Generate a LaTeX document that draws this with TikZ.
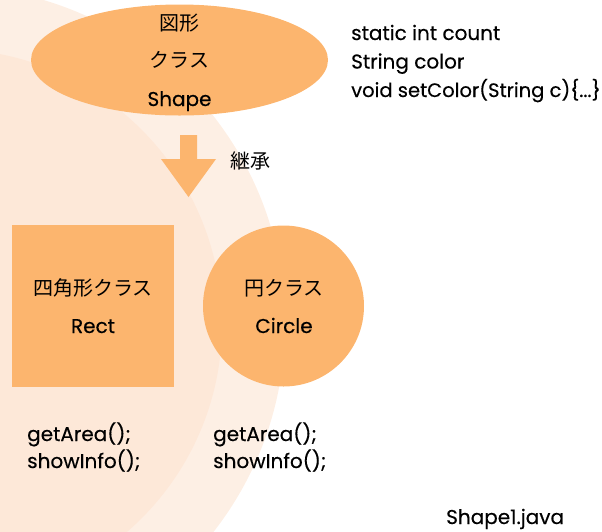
\documentclass[tikz,border=0pt]{standalone}
\usepackage{fontspec}
\setmainfont{Poppins}[FakeBold=0.35]
\newfontfamily\jp{Noto Sans CJK JP}
\usetikzlibrary{shapes.geometric}
\definecolor{nodeor}{RGB}{252,181,110}
\definecolor{bgout}{RGB}{253,239,228}
\definecolor{bgin}{RGB}{253,232,216}
\tikzset{
  cls/.style={fill=nodeor, draw=none, inner sep=0pt, text=black},
  lbl/.style={inner sep=0pt, anchor=base west, font=\fontsize{20}{24}\selectfont},
  enf/.style={inner sep=0pt, anchor=base, font=\fontsize{20}{24}\selectfont},
  jpf/.style={inner sep=0pt, font=\jp\fontsize{20}{24}\selectfont},
}
\begin{document}
\begin{tikzpicture}[x=1pt,y=-1pt]
\useasboundingbox (0,0) rectangle (602,531);
\begin{scope}
\clip (0,0) rectangle (602,531);
\fill[bgout] (-53,324) circle (338);
\fill[bgin] (-53,324) circle (275);
\end{scope}
% superclass
\node[cls, ellipse, minimum width=297pt, minimum height=111pt] (shape) at (179.5,60) {};
\node[jpf] (shapejp1) at (179.5,23) {図形};
\node[jpf] (shapejp2) at (179.5,60) {クラス};
\node[enf] (shapeen) at (179.5,106) {Shape};
% inheritance arrow
\fill[nodeor] (180,135) -- (197,135) -- (197,159) -- (216,159) -- (188.5,197) -- (161,159) -- (180,159) -- cycle;
\node[jpf] (inherit) at (250.5,161) {継承};
% subclasses
\node[cls, rectangle, minimum width=162pt, minimum height=162pt] (rect) at (93,306) {};
\node[jpf] (rectjp) at (93,288) {四角形クラス};
\node[enf] (recten) at (93,333) {Rect};
\node[cls, circle, minimum size=161pt] (circ) at (283.5,306) {};
\node[jpf] (circjp) at (284,288) {円クラス};
\node[enf] (circen) at (284,333) {Circle};
% methods
\node[lbl] (m1a) at (27,441) {getArea();};
\node[lbl] (m1b) at (27,468) {showInfo();};
\node[lbl] (m2a) at (213,441) {getArea();};
\node[lbl] (m2b) at (213,468) {showInfo();};
\node[lbl] (f1) at (351,40) {static int count};
\node[lbl] (f2) at (351,68.5) {String color};
\node[lbl, font=\fontsize{19.5}{24}\selectfont] (f3) at (351,97) {void setColor(String c)\{...\}};
\node[lbl] (file) at (446,524) {Shape1.java};
\end{tikzpicture}
\end{document}
